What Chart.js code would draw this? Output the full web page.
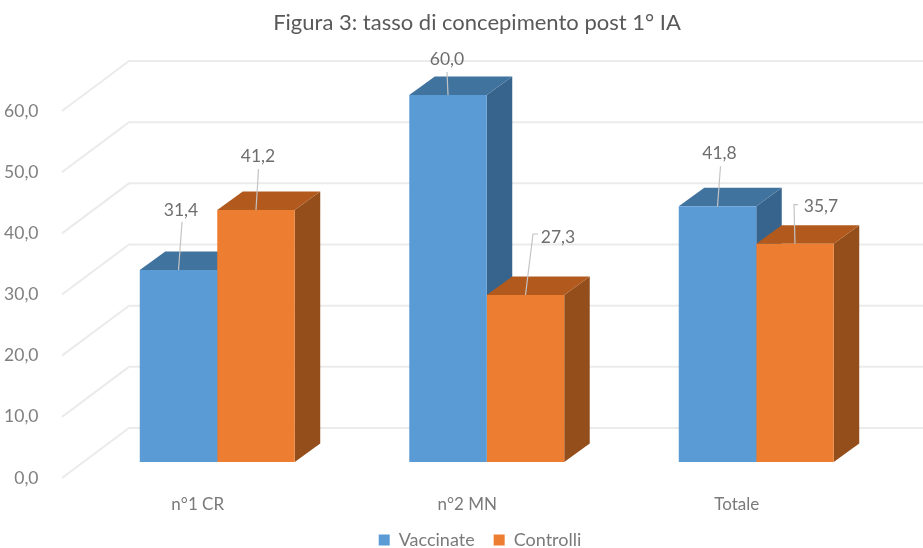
<!DOCTYPE html>
<html lang="en">

<head>
    <meta charset="UTF-8">
    <title>Tasso di concepimento post 1° IA</title>
    <script src="https://cdn.jsdelivr.net/npm/chart.js"></script>
    <style>
        html, body { margin: 0; padding: 0; background: #fff; }
        canvas { display: block; }
    </style>
</head>

<body>
    <canvas id="concepimentoChart" width="923" height="548"></canvas>

    <script>
        // Chart data
        var categories = ['n°1 CR', 'n°2 MN', 'Totale'];
        var vaccinate = [31.4, 60.0, 41.8];
        var controlli = [41.2, 27.3, 35.7];

        // Bar depth for the fake 3D look
        var depthX = 25.5;
        var depthY = 18.5;

        // Floor offset of the gridlines relative to the bar base
        var gridFrontX = 62, gridBackX = 129, gridRightX = 923;
        var gridFrontDy = 16, gridBackDy = -34;

        var faces = [
            { top: '#41739f', side: '#37648c' },
            { top: '#b25a1e', side: '#944e1b' }
        ];

        // Where each value label sits relative to the top centre of its bar:
        // [textDx, textDy, then the leader line points dx, dy, ...]
        var labelLeaders = [
            [[2.5, -60, 3.5, -48], [-1, -36, -1, -23], [2, -53, 3, -40]],
            [[2, -54, 2.5, -41], [32.5, -58, 7.5, -61, 12.5, -61], [26, -37, -1, -39, 3, -39]]
        ];

        function formatValue(v) {
            return v.toFixed(1).replace('.', ',');
        }

        // Gridlines on the left wall and back wall, plus the bar sides and tops
        var depthPlugin = {
            id: 'depth',
            // title and legend are centred on the plot, not on the canvas
            afterLayout: function (chart) {
                chart.titleBlock.left += 15.5;
                chart.titleBlock.right += 15.5;
                chart.legend.left += 18.5;
                chart.legend.right += 18.5;
            },
            beforeDatasetsDraw: function (chart) {
                var c = chart.ctx;
                var y = chart.scales.y;

                c.save();
                c.strokeStyle = '#ebebeb';
                c.lineWidth = 2;
                y.ticks.forEach(function (t) {
                    var p = y.getPixelForValue(t.value);
                    c.beginPath();
                    c.moveTo(gridFrontX, p + gridFrontDy);
                    c.lineTo(gridBackX, p + gridBackDy);
                    c.lineTo(gridRightX, p + gridBackDy);
                    c.stroke();
                });

                categories.forEach(function (_, i) {
                    chart.data.datasets.forEach(function (_, d) {
                        var bar = chart.getDatasetMeta(d).data[i];
                        var l = bar.x - bar.width / 2;
                        var r = bar.x + bar.width / 2;

                        c.fillStyle = faces[d].side;
                        c.beginPath();
                        c.moveTo(r, bar.y);
                        c.lineTo(r + depthX, bar.y - depthY);
                        c.lineTo(r + depthX, bar.base - depthY);
                        c.lineTo(r, bar.base);
                        c.closePath();
                        c.fill();

                        c.fillStyle = faces[d].top;
                        c.beginPath();
                        c.moveTo(l, bar.y);
                        c.lineTo(l + depthX, bar.y - depthY);
                        c.lineTo(r + depthX, bar.y - depthY);
                        c.lineTo(r, bar.y);
                        c.closePath();
                        c.fill();
                    });
                });
                c.restore();
            },
            // Value labels with their thin leader lines
            afterDatasetsDraw: function (chart) {
                var c = chart.ctx;
                c.save();
                c.font = '17.5px Lato';
                c.textAlign = 'center';
                c.textBaseline = 'middle';
                chart.data.datasets.forEach(function (ds, d) {
                    chart.getDatasetMeta(d).data.forEach(function (bar, i) {
                        var o = labelLeaders[d][i];
                        c.strokeStyle = '#c4c4c4';
                        c.lineWidth = 1.2;
                        c.beginPath();
                        c.moveTo(bar.x, bar.y);
                        for (var k = 2; k < o.length; k += 2) {
                            c.lineTo(bar.x + o[k], bar.y + o[k + 1]);
                        }
                        c.stroke();
                        c.fillStyle = '#6e6e6e';
                        c.fillText(formatValue(ds.data[i]), bar.x + o[0], bar.y + o[1]);
                    });
                });
                c.restore();
            }
        };

        var ctx = document.getElementById('concepimentoChart').getContext('2d');

        var myChart = new Chart(ctx, {
            type: 'bar',
            plugins: [depthPlugin],
            data: {
                labels: categories,
                datasets: [{
                    label: 'Vaccinate',
                    data: vaccinate,
                    backgroundColor: '#5b9bd5',
                    categoryPercentage: 0.575,
                    barPercentage: 1
                }, {
                    label: 'Controlli',
                    data: controlli,
                    backgroundColor: '#ed7d31',
                    categoryPercentage: 0.575,
                    barPercentage: 1
                }]
            },
            options: {
                responsive: false,
                animation: false,
                scales: {
                    x: {
                        grid: { display: false },
                        border: { display: false },
                        ticks: {
                            color: '#7a7a7a',
                            font: { family: 'Lato', size: 17 },
                            padding: 24,
                            labelOffset: -19.5,
                            maxRotation: 0
                        },
                        afterFit: function (s) { s.height = 50; }
                    },
                    y: {
                        min: 0,
                        max: 60,
                        grid: { display: false },
                        border: { display: false },
                        ticks: {
                            stepSize: 10,
                            color: '#7f7f7f',
                            font: { family: 'Lato', size: 17.5 },
                            padding: 36,
                            labelOffset: 16,
                            callback: function (v) { return formatValue(v); }
                        },
                        afterFit: function (s) { s.width = 82.5; }
                    },
                    // keeps room on the right for the depth of the last bars
                    spacer: {
                        position: 'right',
                        grid: { display: false },
                        border: { display: false },
                        ticks: { display: false },
                        afterFit: function (s) { s.width = 32; }
                    }
                },
                plugins: {
                    title: {
                        display: true,
                        text: 'Figura 3: tasso di concepimento post 1° IA',
                        color: '#595959',
                        font: { family: 'Lato', size: 22, weight: 'normal' },
                        padding: { top: 10, bottom: 58.6 }
                    },
                    legend: {
                        position: 'bottom',
                        maxHeight: 36,
                        labels: {
                            color: '#7a7a7a',
                            font: { family: 'Lato', size: 18 },
                            boxWidth: 11,
                            boxHeight: 11,
                            padding: 19
                        }
                    },
                    tooltip: { enabled: false }
                }
            }
        });
    </script>
</body>

</html>
